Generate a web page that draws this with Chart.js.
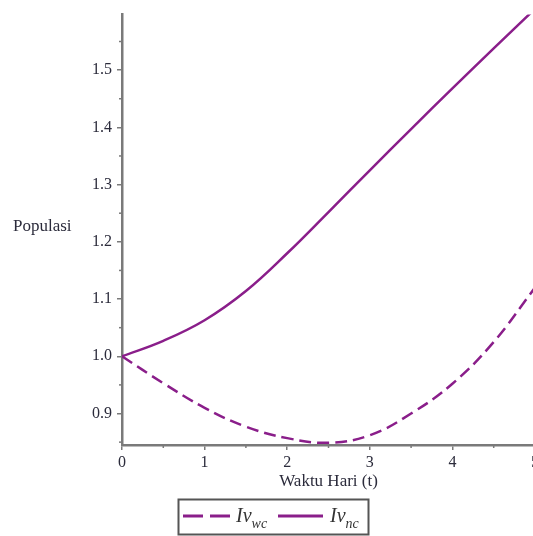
<!DOCTYPE html>
<html>
<head>
<meta charset="utf-8">
<script src="https://cdn.jsdelivr.net/npm/chart.js@4/dist/chart.umd.min.js"></script>
<style>
  html, body { margin: 0; padding: 0; background: #fff; overflow: hidden; }
  #wrap { position: absolute; left: 0; top: 0; width: 548px; height: 536px; }
</style>
</head>
<body>
<div id="wrap"><canvas id="plot" width="548" height="536"></canvas></div>
<script>
// waktu (hari) dan populasi
const tValues = [0, 0.5, 1, 1.5, 2, 2.5, 3, 3.5, 4, 4.5, 5];
const ivWc = [1.0, 0.953, 0.910, 0.877, 0.857, 0.849, 0.862, 0.900, 0.952, 1.025, 1.12];
const ivNc = [1.0, 1.027, 1.063, 1.114, 1.18, 1.252, 1.325, 1.397, 1.468, 1.538, 1.607];

// tick kecil (minor)
const minorX = [0.5, 1.5, 2.5, 3.5, 4.5];
const minorY = [0.85, 0.95, 1.05, 1.15, 1.25, 1.35, 1.45, 1.55];

const ungu = '#8a1e8a';
const abu = '#7a7a7a';
const teks = '#2b2b3b';
const serif = 'Liberation Serif';

const extras = {
    id: 'extras',
    afterDraw(chart) {
        const { ctx, chartArea } = chart;
        const x = chart.scales.x, y = chart.scales.y;
        ctx.save();

        // minor ticks
        ctx.strokeStyle = abu;
        ctx.lineWidth = 1.5;
        minorX.forEach(v => {
            const px = x.getPixelForValue(v);
            ctx.beginPath();
            ctx.moveTo(px, chartArea.bottom);
            ctx.lineTo(px, chartArea.bottom + 3);
            ctx.stroke();
        });
        minorY.forEach(v => {
            const py = y.getPixelForValue(v);
            ctx.beginPath();
            ctx.moveTo(chartArea.left, py);
            ctx.lineTo(chartArea.left - 3, py);
            ctx.stroke();
        });

        // judul sumbu y (horizontal)
        ctx.fillStyle = teks;
        ctx.font = '17px "' + serif + '"';
        ctx.textBaseline = 'middle';
        ctx.textAlign = 'left';
        ctx.fillText('Populasi', 13, 227);

        // legenda dengan kotak
        ctx.strokeStyle = '#555';
        ctx.lineWidth = 2;
        ctx.strokeRect(178.5, 499.5, 190, 35);

        ctx.strokeStyle = ungu;
        ctx.lineWidth = 3;
        ctx.setLineDash([20, 7]);
        ctx.beginPath();
        ctx.moveTo(183, 516);
        ctx.lineTo(230, 516);
        ctx.stroke();
        ctx.setLineDash([]);
        ctx.beginPath();
        ctx.moveTo(278, 516);
        ctx.lineTo(323, 516);
        ctx.stroke();

        ctx.fillStyle = '#333';
        ctx.textBaseline = 'alphabetic';
        const label = (px, sub) => {
            ctx.font = 'italic 20px "' + serif + '"';
            ctx.fillText('Iv', px, 522);
            const w = ctx.measureText('Iv').width;
            ctx.font = 'italic 14px "' + serif + '"';
            ctx.fillText(sub, px + w, 528);
        };
        label(236, 'wc');
        label(330, 'nc');

        ctx.restore();
    }
};

const canvas = document.getElementById('plot');
new Chart(canvas.getContext('2d'), {
    type: 'line',
    data: {
        datasets: [{
            label: 'Iv_wc',
            data: tValues.map((t, i) => ({ x: t, y: ivWc[i] })),
            borderColor: ungu,
            borderWidth: 2.5,
            borderDash: [12, 6],
            tension: 0.4,
            pointRadius: 0,
            fill: false
        }, {
            label: 'Iv_nc',
            data: tValues.map((t, i) => ({ x: t, y: ivNc[i] })),
            borderColor: ungu,
            borderWidth: 2.5,
            tension: 0.4,
            pointRadius: 0,
            fill: false
        }]
    },
    options: {
        responsive: false,
        animation: false,
        layout: { padding: { left: 0, right: 13, top: 10, bottom: 0 } },
        plugins: {
            legend: { display: false },
            tooltip: { enabled: false }
        },
        scales: {
            x: {
                type: 'linear',
                min: 0,
                max: 5,
                border: { color: abu, width: 2.5 },
                grid: { drawOnChartArea: false, drawTicks: true, tickLength: 5, color: abu, lineWidth: 1.5 },
                ticks: {
                    stepSize: 1,
                    padding: 3,
                    maxRotation: 0,
                    color: teks,
                    font: { family: serif, size: 16 }
                },
                title: {
                    display: true,
                    text: 'Waktu Hari (t)',
                    color: teks,
                    font: { family: serif, size: 17 },
                    padding: { top: 0, bottom: 44 }
                },
                afterFit: s => { s.height = 91; }
            },
            y: {
                min: 0.845,
                max: 1.597,
                border: { color: abu, width: 2.5 },
                grid: { drawOnChartArea: false, drawTicks: true, tickLength: 5, color: abu, lineWidth: 1.5 },
                ticks: {
                    stepSize: 0.1,
                    includeBounds: false,
                    padding: 5,
                    color: teks,
                    font: { family: serif, size: 16 },
                    callback: v => v.toFixed(1)
                },
                afterFit: s => { s.width = 122; }
            }
        }
    },
    plugins: [extras]
});
</script>
</body>
</html>
